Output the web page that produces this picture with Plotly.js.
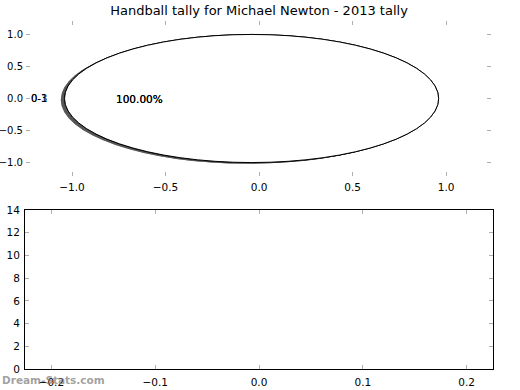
<!DOCTYPE html>
<html>
<head>
<meta charset="utf-8">
<script src="https://cdn.plot.ly/plotly-3.0.1.min.js"></script>
<style>html,body{margin:0;padding:0;background:#fff;}#chart{width:520px;height:390px;}</style>
</head>
<body>
<div id="chart"></div>
<script>
// Data
const chartTitle = "Handball tally for Michael Newton - 2013 tally";
const pieLabels = ["0-1", "0-3"];      // two overlapping single-slice pies
const pieValues = [1, 1];              // each pie is one full slice
const pieCenterX = -0.04;
const pieCenterY = 0.0;
const pieRadius = 1.0;
const topXTicks = [-1.0, -0.5, 0.0, 0.5, 1.0];
const topYTicks = [-1.0, -0.5, 0.0, 0.5, 1.0];
const bottomXTicks = [-0.2, -0.1, 0.0, 0.1, 0.2];
const bottomYTicks = [0, 2, 4, 6, 8, 10, 12, 14];
const barCategories = [];
const barValues = [];

const W = 520, H = 390;
const px = v => v / W;
const py = v => (H - v) / H;

const font = {family: "DejaVu Sans", size: 10.5, color: "#000"};
const yfont = {family: "DejaVu Sans", size: 10, color: "#000"};
const tickGray = "#b0b0b0";

const shapes = [];
const annotations = [];

pieLabels.forEach((lab, i) => {
  shapes.push({type: "circle", xref: "x", yref: "y",
    x0: pieCenterX - pieRadius - 0.02, x1: pieCenterX + pieRadius - 0.02,
    y0: pieCenterY - pieRadius - 0.02, y1: pieCenterY + pieRadius - 0.02,
    fillcolor: "rgba(80,80,80,0.8)", line: {width: 0}, layer: "above"});
});
pieLabels.forEach((lab, i) => {
  shapes.push({type: "circle", xref: "x", yref: "y",
    x0: pieCenterX - pieRadius, x1: pieCenterX + pieRadius,
    y0: pieCenterY - pieRadius, y1: pieCenterY + pieRadius,
    fillcolor: "#ffffff", line: {color: "#000", width: 1}, layer: "above"});
});
pieLabels.forEach((lab, i) => {
  const pct = (pieValues[i] / pieValues[i] * 100).toFixed(2) + "%";
  annotations.push({xref: "x", yref: "y", x: pieCenterX - 1.1 * pieRadius, y: pieCenterY,
    text: lab, showarrow: false, xanchor: "right", yanchor: "middle", xshift: 2, borderpad: 0, font: yfont});
  annotations.push({xref: "x", yref: "y", x: pieCenterX - 0.6 * pieRadius, y: pieCenterY,
    text: pct, showarrow: false, xanchor: "center", yanchor: "middle", font: font});
});

annotations.push({xref: "paper", yref: "paper", x: 0, y: py(380), xanchor: "left", yanchor: "middle",
  text: "<b>Dream-Stats.com</b>", showarrow: false,
  font: {family: "DejaVu Sans", size: 10.5, color: "rgba(120,120,120,0.7)"}});

const traces = [
  {x: [], y: [], type: "scatter", mode: "markers", xaxis: "x", yaxis: "y", showlegend: false, hoverinfo: "skip"},
  {x: barCategories, y: barValues, type: "bar", xaxis: "x2", yaxis: "y2", showlegend: false, marker: {color: "#4c72b0"}}
];

const fmt = v => v.toFixed(1).replace("-", "\u2212");

const layout = {
  width: W, height: H,
  margin: {l: 0, r: 0, t: 0, b: 0},
  paper_bgcolor: "#fff", plot_bgcolor: "rgba(0,0,0,0)",
  font: font,
  title: {text: chartTitle, x: px(259), xanchor: "center", y: py(10), yanchor: "middle",
    font: {family: "DejaVu Sans", size: 13, color: "#000"}},
  showlegend: false,
  xaxis: {domain: [px(26), px(491)], range: [-1.246, 1.24], anchor: "y",
    tickvals: topXTicks, ticktext: topXTicks.map(fmt),
    ticks: "inside", ticklen: 4, tickwidth: 1, tickcolor: tickGray, mirror: "ticks",
    showline: false, showgrid: false, zeroline: false, tickfont: font, ticklabelstandoff: 3},
  yaxis: {domain: [py(176), py(21)], range: [-1.21, 1.21], anchor: "x",
    tickvals: topYTicks, ticktext: topYTicks.map(fmt),
    ticks: "inside", ticklen: 4, tickwidth: 1, tickcolor: tickGray, mirror: "ticks",
    showline: false, showgrid: false, zeroline: false, tickfont: yfont, ticklabelstandoff: 2},
  xaxis2: {domain: [px(25), px(493)], range: [-0.2254, 0.2254], anchor: "y2",
    tickvals: bottomXTicks, ticktext: bottomXTicks.map(fmt),
    ticks: "inside", ticklen: 4, tickwidth: 1, tickcolor: tickGray, mirror: "ticks",
    showline: true, linecolor: "#000", linewidth: 1, showgrid: false, zeroline: false, tickfont: font, ticklabelstandoff: 3},
  yaxis2: {domain: [py(369), py(210)], range: [0, 14], anchor: "x2",
    tickvals: bottomYTicks, ticks: "inside", ticklen: 4, tickwidth: 1, tickcolor: tickGray, mirror: "ticks",
    showline: true, linecolor: "#000", linewidth: 1, showgrid: false, zeroline: false, tickfont: font, ticklabelstandoff: 2},
  shapes: shapes,
  annotations: annotations
};

Plotly.newPlot("chart", traces, layout, {displayModeBar: false, staticPlot: true});
</script>
</body>
</html>
